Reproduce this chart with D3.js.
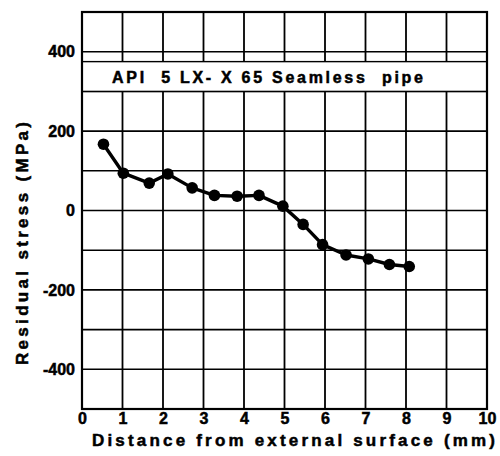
<!DOCTYPE html>
<html>
<head>
<meta charset="utf-8">
<script src="https://cdn.jsdelivr.net/npm/d3@7"></script>
<style>
  body { margin: 0; background: white; }
  text { font-family: "Liberation Sans", Arial, sans-serif; font-weight: bold; fill: #000; stroke: #000; stroke-width: 0.5px; }
</style>
</head>
<body>
<svg id="chart"></svg>
<script>
// Residual stress through the wall of a seamless pipe
var distance = [0.53, 1.02, 1.66, 2.12, 2.72, 3.27, 3.83, 4.37, 4.96, 5.46, 5.94, 6.52, 7.07, 7.59, 8.08];
var stress = [167, 94, 69, 92, 57, 38, 36, 38, 11, -35, -86, -112, -122, -136, -141];
var xTicks = [0, 1, 2, 3, 4, 5, 6, 7, 8, 9, 10];
var yTickLabels = [400, 200, 0, -200, -400];
var yGrid = [-500, -400, -300, -200, -100, 0, 100, 200, 300, 400, 500];
var title = "API  5 LX- X 65 Seamless  pipe";

var dimensions = {
    width: 500,
    height: 456,
    margin: { top: 12, bottom: 47, right: 13, left: 82 }
};

var svg = d3.select("#chart")
    .attr("width", dimensions.width)
    .attr("height", dimensions.height);

var xScale = d3.scaleLinear()
    .domain([0, 10])
    .range([dimensions.margin.left, dimensions.width - dimensions.margin.right]);

var yScale = d3.scaleLinear()
    .domain([-500, 500])
    .range([dimensions.height - dimensions.margin.bottom, dimensions.margin.top]);

var plotW = xScale(10) - xScale(0);
var plotH = yScale(-500) - yScale(500);

// horizontal grid
svg.append("g")
    .attr("class", "y-grid")
    .selectAll("line")
    .data(yGrid)
    .enter()
    .append("line")
    .attr("x1", xScale(0))
    .attr("x2", xScale(10))
    .attr("y1", d => yScale(d))
    .attr("y2", d => yScale(d))
    .attr("stroke", "#000")
    .attr("stroke-width", 1.6);

// title box
svg.append("rect")
    .attr("x", xScale(0))
    .attr("y", yScale(375))
    .attr("width", plotW)
    .attr("height", yScale(300) - yScale(375))
    .attr("fill", "white")
    .attr("stroke", "#000")
    .attr("stroke-width", 1.4);

// vertical grid, broken around the title box
var gridPath = d3.path();
xTicks.forEach(d => {
    gridPath.moveTo(xScale(d), yScale(500));
    gridPath.lineTo(xScale(d), yScale(375));
    gridPath.moveTo(xScale(d), yScale(300));
    gridPath.lineTo(xScale(d), yScale(-500));
});
svg.append("path")
    .attr("class", "x-grid")
    .attr("d", gridPath.toString())
    .attr("fill", "none")
    .attr("stroke", "#000")
    .attr("stroke-width", 1.8);

svg.append("text")
    .attr("x", xScale(0) + 30)
    .attr("y", yScale(337) + 6)
    .style("font-size", "16px")
    .style("white-space", "pre")
    .attr("textLength", 311)
    .attr("lengthAdjust", "spacing")
    .text(title);

// frame
svg.append("rect")
    .attr("x", xScale(0))
    .attr("y", yScale(500))
    .attr("width", plotW)
    .attr("height", plotH)
    .attr("fill", "none")
    .attr("stroke", "#000")
    .attr("stroke-width", 2.2);

// tick labels
var xAxis = svg.append("g")
    .attr("transform", `translate(0,${yScale(-500)})`)
    .call(d3.axisBottom(xScale).tickValues(xTicks).tickSize(0).tickPadding(4).tickFormat(d => String(d)));
xAxis.select(".domain").remove();
xAxis.selectAll("text").style("font-size", "16px").attr("font-family", null);

var yAxis = svg.append("g")
    .attr("transform", `translate(${xScale(0)},0)`)
    .call(d3.axisLeft(yScale).tickValues(yTickLabels).tickSize(0).tickPadding(7).tickFormat(d => String(d)));
yAxis.select(".domain").remove();
yAxis.selectAll("text").style("font-size", "16px").attr("font-family", null);

svg.append("text")
    .attr("x", 92)
    .attr("y", 446)
    .style("font-size", "17px")
    .attr("textLength", 403)
    .attr("lengthAdjust", "spacing")
    .text("Distance from external surface (mm)");

svg.append("text")
    .attr("transform", "translate(28,365) rotate(-90)")
    .style("font-size", "17px")
    .attr("textLength", 243)
    .attr("lengthAdjust", "spacing")
    .text("Residual stress (MPa)");

// data line
var line = d3.line()
    .x((d, i) => xScale(distance[i]))
    .y(d => yScale(d));

svg.append("path")
    .datum(stress)
    .attr("d", line)
    .attr("fill", "none")
    .attr("stroke", "#000")
    .attr("stroke-width", 3.4)
    .attr("stroke-linejoin", "round");

svg.append("g")
    .selectAll("circle")
    .data(stress)
    .enter()
    .append("circle")
    .attr("cx", (d, i) => xScale(distance[i]))
    .attr("cy", d => yScale(d))
    .attr("r", 5.8)
    .attr("fill", "#000");
</script>
</body>
</html>
